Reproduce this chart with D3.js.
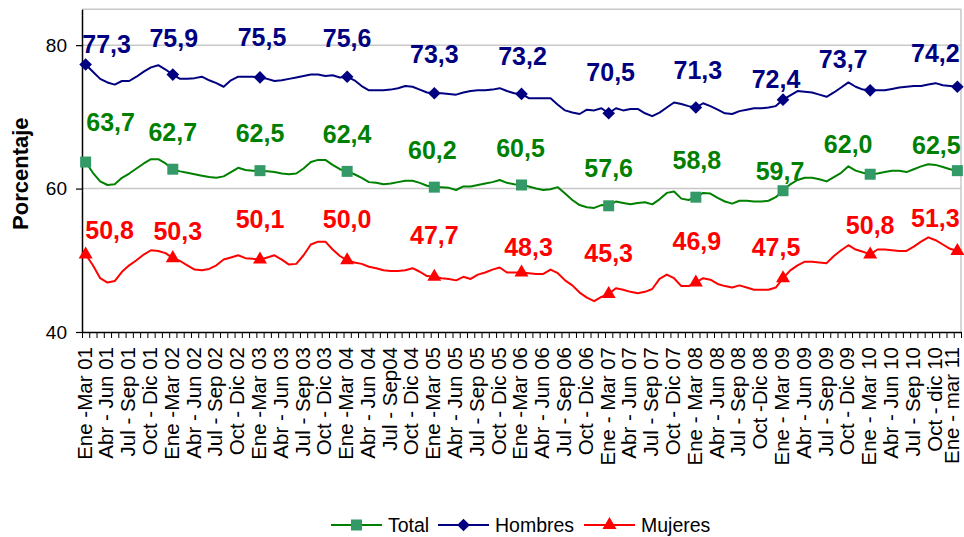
<!DOCTYPE html>
<html>
<head>
<meta charset="utf-8">
<script src="https://cdn.jsdelivr.net/npm/d3@7"></script>
<style>
  body { margin: 0; background: #fff; }
  svg { display: block; font-family: "Liberation Sans", Arial, sans-serif; }
</style>
</head>
<body>
<div id="main"></div>
<script>
// etiquetas trimestrales (una cada 3 meses)
const quarterLabels = [
  'Ene -Mar 01', 'Abr - Jun 01', 'Jul - Sep 01', 'Oct - Dic 01',
  'Ene -Mar 02', 'Abr - Jun 02', 'Jul - Sep 02', 'Oct - Dic 02',
  'Ene -Mar 03', 'Abr - Jun 03', 'Jul - Sep 03', 'Oct - Dic 03',
  'Ene -Mar 04', 'Abr - Jun 04', 'Jul - Sep04', 'Oct - Dic 04',
  'Ene -Mar 05', 'Abr - Jun 05', 'Jul - Sep 05', 'Oct - Dic 05',
  'Ene -Mar 06', 'Abr - Jun 06', 'Jul - Sep 06', 'Oct - Dic 06',
  'Ene - Mar 07', 'Abr - Jun 07', 'Jul - Sep 07', 'Oct - Dic 07',
  'Ene - Mar 08', 'Abr - Jun 08', 'Jul - Sep 08', 'Oct -Dic 08',
  'Ene - Mar 09', 'Abr - Jun 09', 'Jul - Sep 09', 'Oct - Dic 09',
  'Ene - Mar 10', 'Abr - Jun 10', 'Jul - Sep 10', 'Oct - dic 10',
  'Ene - mar 11'
];

// trimestres móviles, un valor por mes
const total = [
  63.7, 62.2, 61.0, 60.5, 60.6, 61.5, 62.1, 62.8, 63.5, 64.1, 64.1, 63.5, 62.7,
  62.4, 62.2, 62.0, 61.8, 61.6, 61.5, 61.7, 62.3, 62.9, 62.6, 62.5, 62.5,
  62.4, 62.3, 62.1, 62.0, 62.1, 62.8, 63.7, 64.0, 64.0, 63.3, 62.7, 62.4,
  62.0, 61.5, 60.9, 60.8, 60.6, 60.7, 60.9, 61.1, 61.1, 60.8, 60.4, 60.2,
  60.2, 60.1, 59.8, 60.3, 60.3, 60.5, 60.7, 60.9, 61.2, 60.8, 60.6, 60.5,
  60.3, 60.0, 59.8, 59.9, 60.2, 59.3, 58.4, 57.7, 57.4, 57.3, 57.7, 57.6,
  58.2, 58.0, 57.8, 58.0, 58.1, 57.8, 58.5, 59.4, 59.6, 58.6, 58.4, 58.8,
  59.4, 59.3, 58.7, 58.2, 57.9, 58.3, 58.3, 58.2, 58.2, 58.3, 58.8, 59.7,
  60.6, 61.2, 61.5, 61.5, 61.3, 61.0, 61.6, 62.2, 63.1, 62.5, 62.2, 62.0,
  62.1, 62.3, 62.5, 62.5, 62.3, 62.7, 63.1, 63.4, 63.3, 63.0, 62.7, 62.5
];

const hombres = [
  77.3, 76.3, 75.3, 74.8, 74.5, 75.0, 75.0, 75.6, 76.3, 76.9, 77.2, 76.6, 75.9,
  75.3, 75.3, 75.4, 75.6, 75.1, 74.7, 74.2, 75.1, 75.6, 75.6, 75.6, 75.5,
  75.3, 75.0, 75.1, 75.3, 75.5, 75.7, 75.9, 75.9, 75.7, 75.8, 75.5, 75.6,
  75.1, 74.3, 73.7, 73.7, 73.7, 73.8, 74.0, 74.3, 74.2, 73.8, 73.4, 73.3,
  73.3, 73.2, 73.1, 73.4, 73.6, 73.7, 73.7, 73.8, 74.0, 73.6, 73.3, 73.2,
  72.6, 72.6, 72.6, 72.6, 71.7, 70.9, 70.6, 70.4, 71.0, 70.9, 71.2, 70.5,
  71.2, 70.9, 71.1, 71.1, 70.5, 70.1, 70.6, 71.3, 72.0, 71.8, 71.5, 71.3,
  71.9, 71.5, 71.0, 70.5, 70.4, 70.8, 71.0, 71.2, 71.2, 71.3, 71.5, 72.4,
  73.0, 73.6, 73.5, 73.4, 73.1, 72.8, 73.4, 74.1, 74.8, 74.2, 73.8, 73.7,
  73.7, 73.7, 73.9, 74.1, 74.2, 74.3, 74.3, 74.5, 74.7, 74.4, 74.3, 74.2
];

const mujeres = [
  50.8, 49.3, 47.5, 46.9, 47.1, 48.4, 49.3, 50.0, 50.8, 51.4, 51.3, 51.0, 50.3,
  49.9, 49.3, 48.7, 48.6, 48.8, 49.3, 50.1, 50.4, 50.7, 50.3, 50.2, 50.1,
  50.4, 50.7, 50.1, 49.4, 49.5, 50.7, 52.2, 52.6, 52.6, 51.5, 50.6, 50.0,
  49.7, 49.5, 49.1, 48.9, 48.6, 48.5, 48.5, 48.6, 48.9, 48.4, 47.8, 47.7,
  47.5, 47.4, 47.2, 47.7, 47.4, 48.0, 48.3, 48.7, 49.0, 48.3, 48.3, 48.3,
  48.2, 48.1, 48.1, 48.7, 48.2, 47.2, 46.5, 45.5, 44.8, 44.3, 44.9, 45.3,
  46.1, 45.9, 45.6, 45.4, 45.6, 46.0, 47.4, 48.0, 47.5, 46.4, 46.4, 46.9,
  47.5, 47.3, 46.7, 46.4, 46.2, 46.5, 46.2, 45.9, 45.9, 45.9, 46.2, 47.5,
  48.6, 49.3, 49.8, 49.8, 49.7, 49.6, 50.6, 51.4, 52.1, 51.5, 51.2, 50.8,
  51.5, 51.5, 51.4, 51.3, 51.3, 51.9, 52.6, 53.2, 52.8, 52.2, 51.6, 51.3
];

const yTicks = [40, 60, 80];

// desplazamiento manual de las etiquetas de datos (px, respecto al marcador)
const shiftHombres = [[21,-12],[1,-28],[2,-31],[0,-30],[0,-30],[1,-29],[2,-32],[2,-29],[-7,-12],[-27,-22],[-22,-25]];
const shiftTotal   = [[25,-31],[0,-28],[0,-29],[0,-28],[-2,-28],[-1,-28],[0,-29],[1,-28],[-3,-11],[-22,-21],[-21,-17]];
const shiftMujeres = [[24,-16],[5,-18],[0,-32],[0,-32],[0,-33],[7,-16],[0,-32],[1,-33],[-7,-22],[0,-21],[-22,-24]];

const W = 964, H = 537;
const plotLeft = 82, plotRight = 961, plotTop = 9.3, plotBottom = 332;

const svg = d3.select('#main').append('svg').attr('width', W).attr('height', H);

const x = d3.scaleBand().domain(d3.range(total.length)).range([plotLeft, plotRight]);
const cx = i => x(i) + x.bandwidth() / 2;
const xEdge = d3.scaleLinear().domain([0, total.length]).range([plotLeft, plotRight]);
const y = d3.scaleLinear().domain([40, 85]).range([plotBottom, plotTop]);

// rejilla y marco
svg.append('g').selectAll('line')
  .data(yTicks.filter(d => d > 40))
  .enter().append('line')
  .attr('x1', plotLeft).attr('x2', plotRight)
  .attr('y1', d => y(d)).attr('y2', d => y(d))
  .attr('stroke', '#c8c8c8').attr('stroke-width', 1.5);

svg.append('line').attr('x1', plotLeft).attr('x2', plotRight).attr('y1', y(85)).attr('y2', y(85))
  .attr('stroke', '#c8c8c8').attr('stroke-width', 1.5);
svg.append('line').attr('x1', plotRight).attr('x2', plotRight).attr('y1', y(85)).attr('y2', y(40))
  .attr('stroke', '#c8c8c8').attr('stroke-width', 1.5);

// eje Y
const gy = svg.append('g').attr('transform', `translate(${plotLeft},0)`)
  .call(d3.axisLeft(y).tickValues(yTicks).tickSize(6).tickPadding(9).tickSizeOuter(0));
gy.select('.domain').attr('stroke', '#000').attr('stroke-width', 1.5);
gy.selectAll('.tick line').attr('stroke', '#000').attr('stroke-width', 1.2);
gy.selectAll('text').style('font-size', '19px').style('fill', '#000')
  .style('font-family', '"Liberation Sans", Arial, sans-serif');

// eje X: marcas en los límites de categoría
const gxt = svg.append('g').attr('transform', `translate(0,${plotBottom})`)
  .call(d3.axisBottom(xEdge).tickValues(d3.range(total.length + 1)).tickFormat('').tickSize(6).tickSizeOuter(0));
gxt.select('.domain').attr('stroke', '#000').attr('stroke-width', 1.5);
gxt.selectAll('.tick line').attr('stroke', '#000').attr('stroke-width', 1);

// eje X: etiquetas cada tres meses
const lastTick = total.length - 1;
const gx = svg.append('g').attr('transform', `translate(0,${plotBottom})`)
  .call(d3.axisBottom(x).tickValues(d3.range(0, total.length, 3))
    .tickFormat(i => quarterLabels[i / 3]).tickSize(0));
gx.select('.domain').remove();
gx.selectAll('text')
  .attr('transform', 'rotate(-90)')
  .attr('x', -15)
  .attr('y', d => d === lastTick ? -4 : 0)   // la última queda pegada al borde
  .attr('dy', '0.29em')
  .style('text-anchor', 'end')
  .style('font-size', '20.5px').style('fill', '#000')
  .style('font-family', '"Liberation Sans", Arial, sans-serif');

// título eje Y
svg.append('text')
  .attr('transform', `translate(28,${(plotTop + plotBottom) / 2 + 3}) rotate(-90)`)
  .attr('text-anchor', 'middle')
  .style('font-size', '22px').style('font-weight', 'bold')
  .text('Porcentaje');

// series
const series = [
  { name: 'Total', values: total, line: '#008000', fill: '#339966', label: '#008000', shape: 'square', shift: shiftTotal },
  { name: 'Hombres', values: hombres, line: '#000080', fill: '#000080', label: '#000080', shape: 'diamond', shift: shiftHombres },
  { name: 'Mujeres', values: mujeres, line: '#ff0000', fill: '#ff0000', label: '#ff0000', shape: 'triangle', shift: shiftMujeres }
];

const symbolPath = {
  square: d3.symbol(d3.symbolSquare, 121)(),
  diamond: d3.symbol(d3.symbolSquare, 80)(),
  triangle: d3.symbol(d3.symbolTriangle, 85)()
};
const symbolRot = { square: 0, diamond: 45, triangle: 0 };

const line = d3.line().x((d, i) => cx(i)).y(d => y(d));

series.forEach(s => {
  svg.append('path')
    .datum(s.values)
    .attr('fill', 'none')
    .attr('stroke', s.line)
    .attr('stroke-width', 2)
    .attr('stroke-linejoin', 'round')
    .attr('d', line);

  const marks = s.values.map((v, i) => ({ v, i })).filter(d => d.i % 12 === 0);

  svg.append('g').selectAll('path')
    .data(marks)
    .enter().append('path')
    .attr('d', symbolPath[s.shape])
    .attr('transform', d => `translate(${cx(d.i)},${y(d.v)}) rotate(${symbolRot[s.shape]})`)
    .attr('fill', s.fill);

  svg.append('g').selectAll('text')
    .data(marks)
    .enter().append('text')
    .attr('x', (d, k) => cx(d.i) + s.shift[k][0])
    .attr('y', (d, k) => y(d.v) + s.shift[k][1])
    .attr('text-anchor', 'middle')
    .style('font-size', '25px').style('font-weight', 'bold')
    .attr('fill', s.label)
    .text(d => d.v.toFixed(1).replace('.', ','));
});

// leyenda
const legendX = [331, 438, 584];
const legendY = 525;
const lg = svg.append('g').selectAll('g')
  .data(series)
  .enter().append('g')
  .attr('transform', (d, i) => `translate(${legendX[i]},${legendY})`);
lg.append('line').attr('x1', 0).attr('x2', 51).attr('y1', 0).attr('y2', 0)
  .attr('stroke', d => d.line).attr('stroke-width', 2);
lg.append('path')
  .attr('d', d => symbolPath[d.shape])
  .attr('transform', d => `translate(25.5,0) rotate(${symbolRot[d.shape]})`)
  .attr('fill', d => d.fill);
lg.append('text')
  .attr('x', 57).attr('y', 0).attr('dy', '0.36em')
  .style('font-size', '19.5px')
  .text(d => d.name);
</script>
</body>
</html>
